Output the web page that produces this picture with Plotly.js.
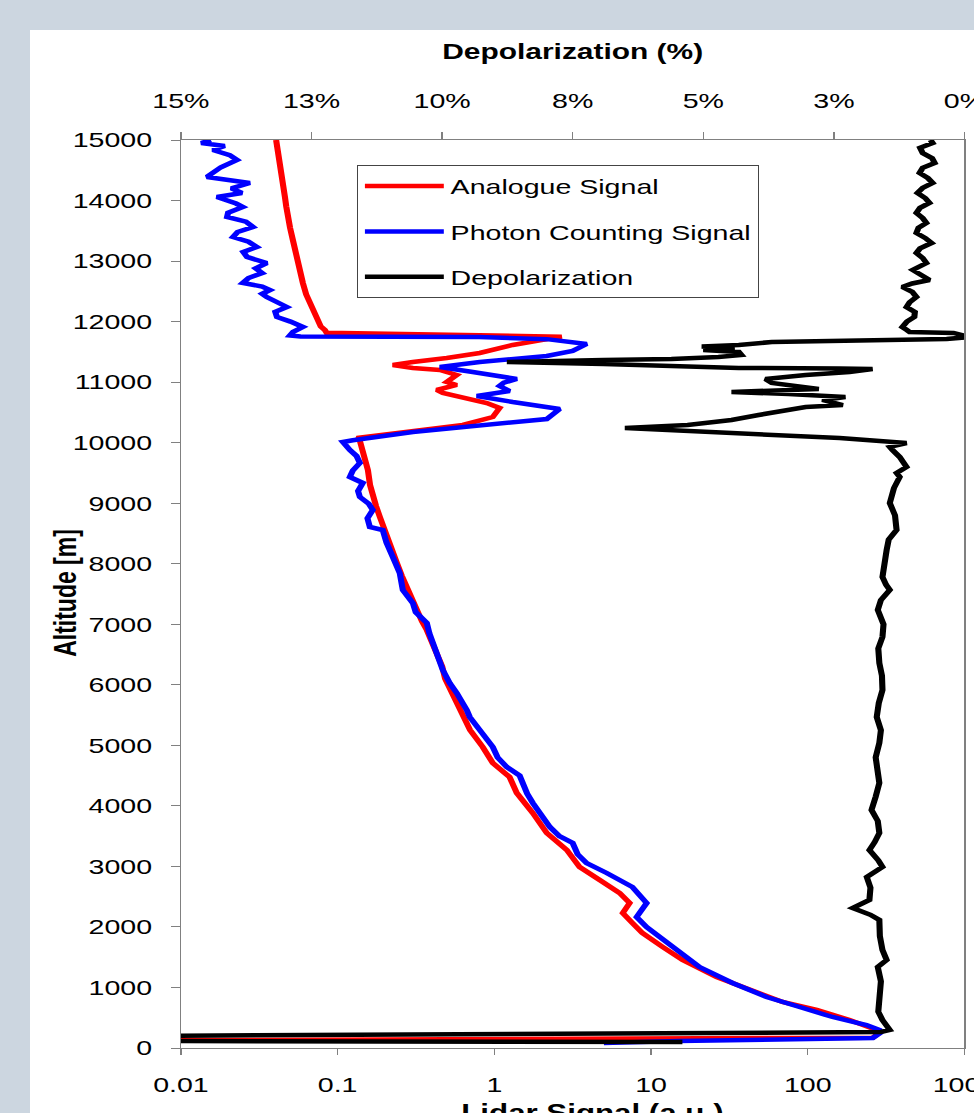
<!DOCTYPE html>
<html>
<head>
<meta charset="utf-8">
<script src="https://cdn.plot.ly/plotly-3.0.1.min.js"></script>
<style>
  html, body { margin: 0; padding: 0; width: 974px; height: 1113px; overflow: hidden; background: #ccd6e0; }
  #panel { position: absolute; left: 30px; top: 30px; width: 944px; height: 1083px; background: #ffffff; }
  #chart { position: absolute; left: 0; top: 0; width: 716px; height: 1113px; transform: scaleX(1.36034); transform-origin: 0 0; }
</style>
</head>
<body>
<div id="panel"></div>
<div id="chart"></div>
<script>
// ---- Data ----
const analogueAlt = [15000,14800,14620,14400,14200,14058,13900,13728,13550,13348,13150,12968,12800,12638,12450,12307,12150,12026,11920,11861,11817,11751,11614,11482,11399,11333,11283,11234,11201,11118,11002,10953,10870,10821,10738,10655,10573,10424,10292,10209,10127,10077,10050,9879,9700,9549,9300,9103,8950,8772,8600,8442,8250,8012,7800,7616,7400,7236,7050,6905,6750,6575,6300,6100,5770,5400,5253,4973,4708,4477,4213,3882,3552,3271,2990,2775,2560,2395,2230,2065,1900,1668,1454,1173,958,760,628,463,297,250,170,140,120];
const analogueVal = [0.0405,0.0418,0.0428,0.0442,0.0452,0.0461,0.0470,0.0481,0.0497,0.0518,0.0537,0.0557,0.0578,0.0600,0.0630,0.0665,0.0700,0.0737,0.0780,0.0829,0.085,2.69,1.31,0.807,0.497,0.302,0.225,0.302,0.449,0.575,0.497,0.575,0.429,0.469,0.629,0.895,1.08,0.977,0.629,0.334,0.206,0.1325,0.138,0.1448,0.150,0.156,0.161,0.1676,0.176,0.186,0.196,0.209,0.222,0.239,0.257,0.276,0.298,0.320,0.345,0.3706,0.395,0.42,0.465,0.485,0.56,0.66,0.70,0.843,0.977,1.25,1.39,1.76,2.16,2.9,3.5,4.7,6.3,7.3,6.6,7.6,8.8,11.9,15.9,26.2,42.5,69,114,185,275,285,260,0.3,0.001];

const photonAlt = [15000,14950,14900,14835,14750,14670,14550,14450,14389,14290,14200,14125,14058,13950,13893,13800,13728,13650,13563,13480,13398,13320,13233,13150,13068,12968,12880,12800,12720,12638,12580,12522,12460,12406,12320,12241,12160,12076,12000,11911,11830,11770,11755,11745,11710,11630,11515,11432,11333,11250,11168,11052,10990,10936,10853,10771,10672,10556,10391,10275,10176,10040,10011,9879,9780,9664,9540,9433,9334,9200,9103,8990,8888,8750,8607,8557,8350,8111,7847,7566,7351,7200,7021,6850,6691,6525,6245,6030,5865,5584,5468,5253,4973,4800,4642,4500,4378,4200,4047,3850,3651,3500,3387,3200,3056,2891,2660,2395,2164,1999,1668,1338,1074,843,677,512,380,297,250,165,116,83];
const photonVal = [0.0155,0.0135,0.019,0.016,0.0205,0.0228,0.018,0.0155,0.01466,0.0275,0.021,0.0245,0.01697,0.0225,0.0248,0.020,0.0197,0.026,0.0288,0.023,0.0215,0.027,0.0305,0.025,0.0264,0.0353,0.030,0.033,0.027,0.0248,0.033,0.037,0.033,0.0353,0.042,0.0474,0.040,0.041,0.050,0.060,0.052,0.0496,0.058,0.8,2.16,3.88,3.16,2.16,0.807,0.449,0.728,1.39,1.15,1.08,1.25,0.773,1.31,2.61,2.16,0.807,0.302,0.125,0.108,0.1196,0.132,0.1386,0.125,0.1196,0.1448,0.135,0.1386,0.158,0.1676,0.155,0.1605,0.194,0.205,0.225,0.249,0.2606,0.302,0.315,0.3706,0.385,0.405,0.429,0.469,0.519,0.575,0.667,0.697,0.807,0.977,1.05,1.2,1.45,1.52,1.62,1.76,2.0,2.26,2.6,3.16,3.4,3.88,5.21,7.6,9.37,8.09,9.37,13.7,20.4,33.1,54.6,88.7,144,237,287,290,260,15,5];

const depolAlt = [15000,14951,14870,14785,14700,14620,14540,14455,14370,14290,14210,14125,14040,13960,13880,13794,13710,13629,13550,13464,13380,13299,13210,13133,13050,12968,12853,12770,12687,12630,12572,12490,12407,12320,12241,12160,12076,12000,11911,11860,11828,11812,11746,11713,11696,11663,11614,11590,11560,11530,11498,11448,11415,11382,11366,11333,11300,11234,11225,11217,11168,11118,11052,10986,10887,10853,10837,10804,10754,10705,10622,10589,10507,10457,10375,10292,10242,10176,10127,10077,9994,9929,9879,9763,9598,9500,9433,9250,9003,8800,8557,8400,8227,8000,7781,7650,7566,7400,7236,7000,6790,6600,6360,6150,5914,5700,5468,5250,5039,4800,4593,4378,4150,3932,3750,3552,3400,3271,3100,2990,2825,2650,2445,2313,2200,2115,1850,1619,1454,1338,1100,793,600,463,297,264,200,190,115,108,99];
const depolVal = [0.65,0.61,0.85,0.80,0.62,0.57,0.80,0.86,0.70,0.61,0.80,0.90,0.75,0.67,0.85,0.92,0.80,0.73,0.88,0.92,0.75,0.63,0.85,0.92,0.80,0.73,0.99,0.85,0.67,1.00,1.19,1.00,0.92,1.05,1.11,0.95,0.96,1.10,1.19,1.10,1.05,0.21,-0.1,0.34,1.76,3.69,4.32,5.03,4.4,5.0,4.32,4.27,4.71,5.61,6.91,8.76,6.91,4.32,2.39,1.76,2.20,3.04,3.81,3.69,2.79,4.32,4.46,3.37,2.28,2.72,2.33,3.04,3.69,3.94,4.46,5.30,6.50,4.97,3.69,2.39,1.11,1.43,1.38,1.24,1.11,1.30,1.24,1.35,1.43,1.33,1.30,1.45,1.49,1.52,1.57,1.50,1.43,1.60,1.66,1.55,1.57,1.65,1.63,1.58,1.57,1.64,1.68,1.60,1.63,1.70,1.68,1.63,1.70,1.78,1.66,1.63,1.72,1.82,1.65,1.57,1.87,1.80,1.82,2.14,1.80,1.63,1.62,1.57,1.49,1.66,1.60,1.63,1.65,1.57,1.43,1.60,15.5,60,60,15.5,5.4];

const signalTickVals = [0.01, 0.1, 1, 10, 100, 1000];
const signalTickText = ['0.01', '0.1', '1', '10', '100', '1000'];
const depolTickVals = [15, 12.5, 10, 7.5, 5, 2.5, 0];
const depolTickText = ['15%', '13%', '10%', '8%', '5%', '3%', '0%'];

const FONT = 'Liberation Sans, Arial, sans-serif';
const LW = 4.5;

const traces = [
  { name: 'Analogue Signal', x: analogueVal, y: analogueAlt, xaxis: 'x', yaxis: 'y',
    type: 'scatter', mode: 'lines', line: { color: '#ff0000', width: LW }, legendgroup: 'a' },
  { name: 'Photon Counting Signal', x: photonVal, y: photonAlt, xaxis: 'x', yaxis: 'y',
    type: 'scatter', mode: 'lines', line: { color: '#0000ff', width: LW }, legendgroup: 'b' },
  { name: 'Depolarization', x: depolVal, y: depolAlt, xaxis: 'x2', yaxis: 'y',
    type: 'scatter', mode: 'lines', line: { color: '#000000', width: LW }, legendgroup: 'c' }
];

const axisCommon = {
  showgrid: false, zeroline: false, showline: true, linecolor: '#808080', linewidth: 1,
  ticks: 'outside', tickcolor: '#808080', tickwidth: 1, ticklabeloverflow: 'allow',
  tickfont: { family: FONT, size: 21, color: '#000000' }
};

const layout = {
  width: 716, height: 1113,
  margin: { l: 133, r: 7, t: 140, b: 65 },
  paper_bgcolor: 'rgba(0,0,0,0)',
  plot_bgcolor: '#ffffff',
  font: { family: FONT, color: '#000000' },
  showlegend: true,
  legend: {
    x: 0.2244, y: 0.9725, xanchor: 'left', yanchor: 'top',
    bgcolor: '#ffffff', bordercolor: '#444444', borderwidth: 1,
    font: { family: FONT, size: 21, color: '#000000' },
    itemwidth: 58, tracegroupgap: 15, traceorder: 'grouped'
  },
  xaxis: Object.assign({}, axisCommon, {
    type: 'log', range: [-2, 3], side: 'bottom', anchor: 'y',
    tickvals: signalTickVals, ticktext: signalTickText, ticklen: 6, ticklabelstandoff: 12
  }),
  xaxis2: Object.assign({}, axisCommon, {
    overlaying: 'x', side: 'top', anchor: 'y', range: [15, 0],
    tickvals: depolTickVals, ticktext: depolTickText, ticklen: 7, ticklabelstandoff: 16,
    title: { text: 'Depolarization (%)', font: { family: FONT, size: 22, weight: 'bold', color: '#000000' }, standoff: 22 }
  }),
  yaxis: Object.assign({}, axisCommon, {
    range: [0, 15000], dtick: 1000, tick0: 0, tickformat: 'd', mirror: true,
    ticklen: 6, ticklabelstandoff: 10
  }),
  annotations: [
    {
      text: 'Altitude [m]', textangle: -90, xref: 'paper', yref: 'paper',
      x: -0.148, y: 0.501, xanchor: 'center', yanchor: 'middle', showarrow: false,
      font: { family: FONT, size: 23, weight: 'bold', color: '#000000' }
    },
    {
      text: 'Lidar Signal (a.u.)', xref: 'paper', yref: 'paper',
      x: 0.526, y: -0.0555, xanchor: 'center', yanchor: 'top', showarrow: false,
      font: { family: FONT, size: 23, weight: 'bold', color: '#000000' }
    }
  ]
};

Plotly.newPlot('chart', traces, layout, { displayModeBar: false, responsive: false, staticPlot: true });
</script>
</body>
</html>
